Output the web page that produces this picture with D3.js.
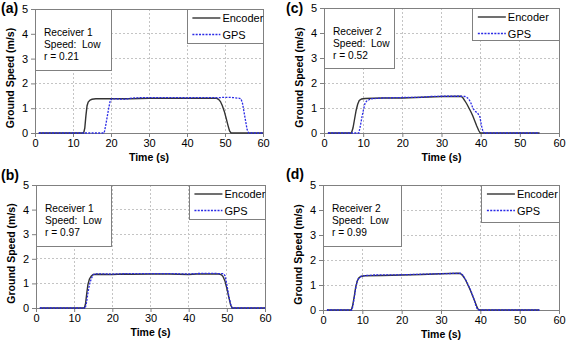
<!DOCTYPE html>
<html>
<head>
<meta charset="utf-8">
<script src="https://cdn.jsdelivr.net/npm/d3@7"></script>
<style>
  body { margin: 0; background: #fff; }
  svg { font-family: "Liberation Sans", Arial, sans-serif; }
  text { white-space: pre; }
</style>
</head>
<body>
<svg id="chart"></svg>
<script>
// tick values
const xTicks = [0, 10, 20, 30, 40, 50, 60]
const yTicks = [0, 1, 2, 3, 4, 5]
const seriesNames = ['Encoder', 'GPS']

// panel text
const panelLabels = ['(a)', '(b)', '(c)', '(d)']
const receivers = ['Receiver 1', 'Receiver 1', 'Receiver 2', 'Receiver 2']
const speeds = ['Speed:  Low', 'Speed:  Low', 'Speed:  Low', 'Speed:  Low']
const rValues = ['r = 0.21', 'r = 0.97', 'r = 0.52', 'r = 0.99']

// [time (s), ground speed (m/s)]
const encoderA = [[1,0],[12.8,0],[13.1,0.2],[13.4,0.7],[13.7,1.1],[14,1.25],[14.5,1.33],[15,1.36],[16,1.38],[20,1.38],[25,1.38],[30,1.4],[35,1.4],[40,1.4],[45,1.4],[47.8,1.4],[48.3,1.36],[48.8,1.27],[49.3,1.1],[49.8,0.88],[50.3,0.6],[50.8,0.3],[51.2,0.08],[51.6,0],[60,0]]
const gpsA = [[1,0],[18.2,0],[18.6,0.3],[19,0.65],[19.4,1],[19.8,1.3],[20.2,1.38],[22,1.37],[24,1.36],[25,1.4],[27,1.42],[30,1.43],[35,1.43],[40,1.42],[45,1.43],[48,1.42],[50,1.44],[52,1.43],[53.8,1.4],[54.2,1.38],[54.6,1.2],[55,0.85],[55.4,0.5],[55.8,0.15],[56.2,0],[60,0]]

const encoderB = [[1,0],[12.7,0],[13,0.2],[13.3,0.6],[13.6,0.95],[14,1.18],[14.5,1.3],[15,1.36],[16,1.37],[20,1.36],[23,1.38],[25,1.37],[30,1.38],[35,1.38],[40,1.36],[42,1.38],[45,1.38],[48,1.38],[48.6,1.35],[49,1.28],[49.5,1.1],[50,0.8],[50.5,0.45],[51,0.12],[51.4,0],[60,0]]
const gpsB = [[1,0],[12.9,0],[13.2,0.2],[13.6,0.6],[14,0.95],[14.5,1.2],[15,1.35],[15.5,1.39],[20,1.38],[25,1.4],[30,1.4],[35,1.4],[40,1.38],[42,1.4],[45,1.41],[48,1.4],[49,1.4],[49.5,1.32],[50,0.95],[50.5,0.5],[51,0.15],[51.4,0],[60,0]]

const encoderC = [[1,0],[7,0],[7.4,0.2],[7.8,0.55],[8.2,0.9],[8.6,1.15],[9,1.3],[9.6,1.36],[10.5,1.38],[15,1.4],[20,1.4],[25,1.43],[30,1.46],[35,1.47],[35.5,1.4],[36,1.28],[36.5,1.15],[37,1.0],[37.5,0.85],[38,0.68],[38.5,0.48],[39,0.28],[39.5,0.1],[39.9,0],[55,0]]
const gpsC = [[1,0],[8.9,0],[9.3,0.3],[9.7,0.65],[10.1,0.95],[10.5,1.2],[11,1.3],[11.5,1.33],[12,1.37],[15,1.4],[20,1.42],[25,1.43],[27,1.46],[30,1.47],[35,1.47],[36,1.46],[36.5,1.42],[37,1.35],[37.5,1.2],[38,1.0],[38.5,0.88],[39.2,0.8],[39.8,0.65],[40.2,0.3],[40.6,0.05],[41,0],[55,0]]

const encoderD = [[1,0],[7.2,0],[7.5,0.15],[7.9,0.5],[8.3,0.9],[8.7,1.15],[9.1,1.28],[9.6,1.34],[10.5,1.37],[15,1.38],[20,1.4],[25,1.42],[30,1.45],[34.5,1.47],[35,1.45],[35.5,1.38],[36,1.27],[36.5,1.12],[37,0.95],[37.5,0.78],[38,0.58],[38.5,0.38],[39,0.18],[39.4,0.04],[39.8,0],[55,0]]
const gpsD = [[1,0],[7.3,0],[7.6,0.15],[8,0.55],[8.4,0.95],[8.8,1.22],[9.2,1.27],[9.7,1.35],[11,1.38],[13,1.4],[20,1.41],[25,1.43],[30,1.45],[35,1.47],[35.5,1.4],[36,1.28],[36.5,1.14],[37,0.97],[37.5,0.8],[38,0.6],[38.5,0.38],[38.9,0.15],[39.3,0.02],[39.7,0],[55,0]]

const width = 567, height = 345
const svg = d3.select('#chart').attr('width', width).attr('height', height)

// layout of each panel (pixels) and of its two boxes (data units)
const panels = [
  {i: 0, enc: encoderA, gps: gpsA, left: 35, right: 263, top: 9, bottom: 133, lx: 1, ly: 13, infoX: 20.1, infoY: 2.53, legX: 40.1, legY: 3.62},
  {i: 1, enc: encoderB, gps: gpsB, left: 36, right: 265, top: 185, bottom: 308, lx: 1, ly: 180, infoX: 19.7, infoY: 2.5, legX: 40.2, legY: 3.6},
  {i: 2, enc: encoderC, gps: gpsC, left: 324, right: 559, top: 8, bottom: 133, lx: 286, ly: 13, infoX: 18.1, infoY: 2.6, legX: 38, legY: 3.7},
  {i: 3, enc: encoderD, gps: gpsD, left: 323, right: 559, top: 185, bottom: 310, lx: 286, ly: 179, infoX: 19.9, infoY: 2.54, legX: 40.4, legY: 3.52}
]

const encColor = '#333333'
const gpsColor = '#2a2ae6'
const gpsDash = '2,1.3'

function drawPanel(p) {
  const x = d3.scaleLinear().domain([0, 60]).range([p.left, p.right])
  const y = d3.scaleLinear().domain([0, 5]).range([p.bottom, p.top])
  const g = svg.append('g')

  // grid
  g.selectAll('.vgrid').data(xTicks.slice(1, -1)).enter().append('line')
    .attr('x1', d => x(d)).attr('x2', d => x(d))
    .attr('y1', p.top).attr('y2', p.bottom)
    .attr('stroke', '#c4c4c4').attr('stroke-dasharray', '2,2').attr('shape-rendering', 'crispEdges')
  g.selectAll('.hgrid').data(yTicks.slice(1, -1)).enter().append('line')
    .attr('y1', d => y(d)).attr('y2', d => y(d))
    .attr('x1', p.left).attr('x2', p.right)
    .attr('stroke', '#c4c4c4').attr('stroke-dasharray', '2,2').attr('shape-rendering', 'crispEdges')

  // axes
  const xa = g.append('g').attr('transform', `translate(0,${p.bottom})`)
    .call(d3.axisBottom(x).tickValues(xTicks).tickFormat(d3.format('d')).tickSize(4).tickPadding(2).tickSizeOuter(0))
  const ya = g.append('g').attr('transform', `translate(${p.left},0)`)
    .call(d3.axisLeft(y).tickValues(yTicks).tickFormat(d3.format('d')).tickSize(4).tickPadding(3).tickSizeOuter(0))
  for (const a of [xa, ya]) {
    a.select('.domain').remove()
    a.selectAll('line').attr('stroke', '#808080')
    a.selectAll('text').attr('font-size', 11).attr('fill', '#000').attr('font-family', '"Liberation Sans", Arial, sans-serif')
  }

  // frame
  g.append('rect').attr('x', p.left).attr('y', p.top)
    .attr('width', p.right - p.left).attr('height', p.bottom - p.top)
    .attr('fill', 'none').attr('stroke', '#808080').attr('shape-rendering', 'crispEdges')

  // series
  const line = d3.line().x(d => x(d[0])).y(d => y(d[1]))
  g.append('path').datum(p.enc).attr('d', line)
    .attr('fill', 'none').attr('stroke', encColor).attr('stroke-width', 1.4)
  g.append('path').datum(p.gps).attr('d', line)
    .attr('fill', 'none').attr('stroke', gpsColor).attr('stroke-width', 1.3).attr('stroke-dasharray', gpsDash)

  // info box
  g.append('rect').attr('x', x(0)).attr('y', y(5))
    .attr('width', x(p.infoX) - x(0)).attr('height', y(p.infoY) - y(5))
    .attr('fill', '#fff').attr('stroke', '#808080').attr('shape-rendering', 'crispEdges')
  const info = [receivers[p.i], speeds[p.i], rValues[p.i]]
  g.selectAll('.info').data(info).enter().append('text')
    .attr('x', x(0) + 9).attr('y', (d, k) => y(5) + 27 + k * 11.8)
    .attr('font-size', 10.2).text(d => d)

  // legend
  const lx = x(p.legX), ly = y(5)
  g.append('rect').attr('x', lx).attr('y', ly)
    .attr('width', x(60) - lx).attr('height', y(p.legY) - ly)
    .attr('fill', '#fff').attr('stroke', '#808080').attr('shape-rendering', 'crispEdges')
  seriesNames.forEach((name, k) => {
    const yy = ly + 9 + k * 16.5
    g.append('line').attr('x1', lx + 5).attr('x2', lx + 33).attr('y1', yy).attr('y2', yy)
      .attr('stroke', k === 0 ? encColor : gpsColor).attr('stroke-width', k === 0 ? 1.4 : 1.3)
      .attr('stroke-dasharray', k === 0 ? null : gpsDash)
    g.append('text').attr('x', lx + 35).attr('y', yy + 4)
      .attr('font-size', 11).text(name)
  })

  // axis titles
  g.append('text').attr('x', (p.left + p.right) / 2).attr('y', p.bottom + 28)
    .attr('text-anchor', 'middle').attr('font-size', 10.5).attr('font-weight', 'bold')
    .text('Time (s)')
  g.append('text')
    .attr('transform', `translate(${p.left - 21},${(p.top + p.bottom) / 2 + 7}) rotate(-90)`)
    .attr('text-anchor', 'middle').attr('font-size', 10.5).attr('font-weight', 'bold')
    .text('Ground Speed (m/s)')

  // panel label
  g.append('text').attr('x', p.lx).attr('y', p.ly)
    .attr('font-size', 14).attr('font-weight', 'bold').text(panelLabels[p.i])
}

panels.forEach(drawPanel)
</script>
</body>
</html>
